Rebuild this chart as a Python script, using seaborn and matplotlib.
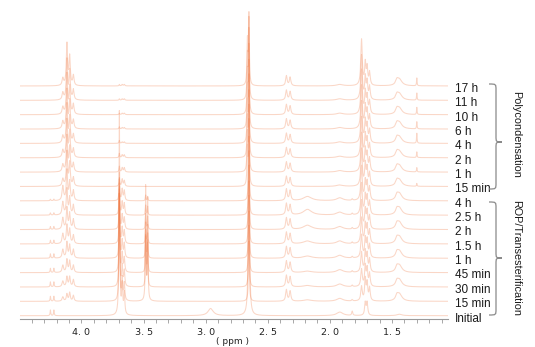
import numpy as np
import pandas as pd
import seaborn as sns
import matplotlib
matplotlib.use("Agg")
import matplotlib.pyplot as plt
from matplotlib.path import Path
from matplotlib.patches import PathPatch

# ---------------- data ----------------
# spectra from bottom (Initial) to top (17 h)
labels = ["Initial", "15 min", "30 min", "45 min", "1 h", "1.5 h", "2 h", "2.5 h", "4 h",
          "15 min", "1 h", "2 h", "4 h", "6 h", "10 h", "11 h", "17 h"]
group_names = ["ROP/Transesterification", "Polycondensation"]
tick_values = [4.0, 3.5, 3.0, 2.5, 2.0, 1.5]
tick_labels = ["4. 0", "3. 5", "3. 0", "2. 5", "2. 0", "1. 5"]
ppm_range = (4.495, 1.049)

# peak shifts (ppm) and half widths (ppm)
peak_shift = [4.250, 4.222, 4.150, 4.117, 4.095, 4.065, 3.695, 3.672, 3.655, 3.483, 3.467,
              2.960, 2.664, 2.652, 2.350, 2.320, 2.180, 1.920, 1.820, 1.745, 1.715, 1.700,
              1.680, 1.460, 1.440, 1.300]
peak_width = [0.003, 0.003, 0.007, 0.006, 0.006, 0.006, 0.0035, 0.005, 0.005, 0.003, 0.003,
              0.025, 0.004, 0.004, 0.007, 0.007, 0.040, 0.030, 0.005, 0.007, 0.006, 0.006,
              0.006, 0.012, 0.024, 0.0025]
# peak heights (in units of spectrum spacing), one row per spectrum (Initial ... 17 h)
h_initial = [0.40, 0.40, 0, 0, 0, 0, 14.3, 2.0, 1.5, 0, 0, 0.5, 0, 20.9, 0, 0, 0, 0.25, 0.3, 0, 0.9, 0.9, 0, 0, 0.1, 0]
h_rop_15m = [0.35, 0.35, 0.3, 0.5, 0.6, 0.4, 9.0, 1.5, 1.2, 8.0, 7.0, 0, 0, 4.2, 0.8, 0.7, 0.10, 0.2, 0.1, 1.0, 1.5, 1.2, 0.9, 0.3, 0.5, 0]
h_rop_30m = [0.35, 0.35, 0.4, 0.7, 0.7, 0.5, 7.0, 1.4, 1.1, 3.5, 3.0, 0, 0, 4.3, 0.8, 0.7, 0.10, 0.2, 0.1, 1.2, 1.4, 1.2, 0.9, 0.3, 0.5, 0]
h_rop_45m = [0.30, 0.30, 0.5, 0.9, 0.8, 0.5, 5.5, 1.3, 1.0, 2.6, 2.2, 0, 0, 4.3, 0.8, 0.7, 0.10, 0.2, 0.1, 1.4, 1.4, 1.2, 0.9, 0.3, 0.5, 0]
h_rop_1h = [0.30, 0.30, 0.6, 1.1, 0.9, 0.6, 4.5, 1.2, 1.0, 2.0, 1.7, 0, 0, 4.4, 0.8, 0.7, 0.15, 0.2, 0.1, 1.6, 1.3, 1.2, 0.9, 0.3, 0.5, 0]
h_rop_15h = [0.25, 0.25, 0.7, 1.3, 1.0, 0.6, 3.5, 1.1, 0.9, 1.5, 1.3, 0, 0, 4.4, 0.8, 0.7, 0.20, 0.2, 0.1, 1.8, 1.3, 1.2, 0.9, 0.3, 0.5, 0]
h_rop_2h = [0.20, 0.20, 0.8, 1.5, 1.1, 0.7, 2.8, 1.0, 0.8, 1.1, 0.9, 0, 0, 4.5, 0.8, 0.7, 0.30, 0.2, 0.1, 2.0, 1.3, 1.2, 0.9, 0.3, 0.5, 0]
h_rop_25h = [0.15, 0.15, 0.9, 1.8, 1.2, 0.7, 2.2, 0.9, 0.8, 0.7, 0.6, 0, 0, 4.5, 0.8, 0.7, 0.40, 0.2, 0.1, 2.2, 1.3, 1.2, 0.9, 0.3, 0.5, 0]
h_rop_4h = [0.10, 0.10, 1.0, 2.1, 1.3, 0.7, 1.5, 0.8, 0.7, 0.4, 0.3, 0, 0, 4.5, 0.8, 0.7, 0.30, 0.2, 0.1, 2.4, 1.3, 1.2, 0.9, 0.3, 0.5, 0]
h_pc_15m = [0, 0, 0.5, 2.4, 1.6, 0.6, 0.6, 0.5, 0.4, 0, 0, 0, 2.5, 4.5, 0.7, 0.6, 0, 0.1, 0, 2.6, 1.5, 1.2, 0.9, 0.3, 0.45, 0.2]
h_pc_1h = [0, 0, 0.5, 2.5, 1.7, 0.6, 0.4, 0.3, 0.3, 0, 0, 0, 2.5, 4.5, 0.7, 0.6, 0, 0.1, 0, 2.7, 1.5, 1.2, 0.9, 0.3, 0.45, 0.3]
h_pc_2h = [0, 0, 0.5, 2.6, 1.8, 0.6, 0.3, 0.2, 0.2, 0, 0, 0, 2.6, 4.5, 0.7, 0.6, 0, 0.1, 0, 2.8, 1.5, 1.2, 0.9, 0.3, 0.45, 0.4]
h_pc_4h = [0, 0, 0.5, 2.7, 1.8, 0.6, 0.2, 0.1, 0.1, 0, 0, 0, 2.7, 4.6, 0.7, 0.6, 0, 0.1, 0, 2.9, 1.5, 1.2, 0.9, 0.3, 0.45, 0.7]
h_pc_6h = [0, 0, 0.5, 2.7, 1.9, 0.6, 0.15, 0.1, 0.1, 0, 0, 0, 2.8, 4.6, 0.7, 0.6, 0, 0.1, 0, 3.0, 1.5, 1.2, 0.9, 0.3, 0.45, 0.5]
h_pc_10h = [0, 0, 0.5, 2.8, 1.9, 0.7, 0.1, 0.1, 0.1, 0, 0, 0, 2.9, 4.7, 0.7, 0.6, 0, 0.1, 0, 3.1, 1.5, 1.2, 0.9, 0.3, 0.45, 0.5]
h_pc_11h = [0, 0, 0.5, 2.8, 2.0, 0.7, 0.1, 0.1, 0.1, 0, 0, 0, 3.0, 4.8, 0.7, 0.6, 0, 0.1, 0, 3.1, 1.5, 1.2, 0.9, 0.3, 0.45, 0.5]
h_pc_17h = [0, 0, 0.5, 2.9, 2.0, 0.7, 0.1, 0.1, 0.1, 0, 0, 0, 3.0, 4.9, 0.7, 0.6, 0, 0.1, 0, 3.2, 1.5, 1.2, 0.9, 0.3, 0.45, 0.55]

heights = [h_initial, h_rop_15m, h_rop_30m, h_rop_45m, h_rop_1h, h_rop_15h, h_rop_2h,
           h_rop_25h, h_rop_4h, h_pc_15m, h_pc_1h, h_pc_2h, h_pc_4h, h_pc_6h, h_pc_10h,
           h_pc_11h, h_pc_17h]

# ---------------- build spectra ----------------
ppm = np.linspace(ppm_range[1], ppm_range[0], 4000)
c = np.array(peak_shift)[:, None]
w = np.array(peak_width)[:, None]
frames = []
for i, (lab, h) in enumerate(zip(labels, heights)):
    hh = np.array(h)[:, None]
    y = (hh * w**2 / ((ppm[None, :] - c) ** 2 + w**2)).sum(axis=0) + i
    frames.append(pd.DataFrame({"ppm": ppm, "y": y, "spectrum": i}))
df = pd.concat(frames, ignore_index=True)

# ---------------- plot ----------------
W, H = 535, 347
fig = plt.figure(figsize=(W / 100, H / 100), dpi=100)
ax = fig.add_axes([20 / W, 28 / H, 428 / W, 309 / H])

sns.lineplot(data=df, x="ppm", y="y", units="spectrum", estimator=None, sort=False,
             color="#F07A45", alpha=0.30, lw=0.75, ax=ax, legend=False)

ax.set_xlim(*ppm_range)
ax.set_ylim(-0.23, 21.29)
for s in ["left", "right", "top"]:
    ax.spines[s].set_visible(False)
ax.spines["bottom"].set_color("#9a9a9a")
ax.spines["bottom"].set_linewidth(0.8)
ax.set_yticks([])
ax.set_ylabel("")
ax.set_xticks(tick_values)
ax.set_xticklabels(tick_labels, fontsize=6.8, family="DejaVu Sans", color="#222222")
ax.set_xticks(np.arange(1.1, 4.5, 0.1), minor=True)
ax.tick_params(axis="x", which="both", direction="out", length=3, width=0.6,
               color="#9a9a9a", pad=3.5)
ax.set_xlabel("( ppm )", fontsize=6.5, family="DejaVu Sans", color="#222222")
ax.xaxis.set_label_coords((233 - 20) / 428, (319 - 337.5) / 309)

# right-hand labels
for i, lab in enumerate(labels):
    ax.text((455 - 20) / 428, i - 0.2, lab, transform=ax.get_yaxis_transform(),
            fontsize=8.5, family="Liberation Sans", color="#1a1a1a", va="center", ha="left")


def brace(x_end, x_mid, x_tip, y_top, y_bot, y_tip, r=6):
    def P(x, y):
        return (x / W, 1 - y / H)
    verts = [P(x_end, y_top), P(x_mid, y_top), P(x_mid, y_top), P(x_mid, y_top + r),
             P(x_mid, y_tip - r),
             P(x_mid, y_tip), P(x_mid, y_tip), P(x_tip, y_tip),
             P(x_mid, y_tip), P(x_mid, y_tip), P(x_mid, y_tip + r),
             P(x_mid, y_bot - r),
             P(x_mid, y_bot), P(x_mid, y_bot), P(x_end, y_bot)]
    codes = [Path.MOVETO, Path.CURVE4, Path.CURVE4, Path.CURVE4, Path.LINETO,
             Path.CURVE4, Path.CURVE4, Path.CURVE4, Path.CURVE4, Path.CURVE4, Path.CURVE4,
             Path.LINETO, Path.CURVE4, Path.CURVE4, Path.CURVE4]
    fig.add_artist(PathPatch(Path(verts, codes), transform=fig.transFigure,
                             fill=False, edgecolor="#8a8a8a", lw=0.9))


brace(489, 496, 502, 84, 189, 142)
brace(489, 496, 502, 202, 315, 258)
fig.text(516 / W, 1 - 134 / H, group_names[1], rotation=-90, fontsize=7.8,
         family="Liberation Sans", color="#1a1a1a", ha="center", va="center")
fig.text(516 / W, 1 - 258 / H, group_names[0], rotation=-90, fontsize=7.8,
         family="Liberation Sans", color="#1a1a1a", ha="center", va="center")

fig.savefig("out.png", dpi=100)
